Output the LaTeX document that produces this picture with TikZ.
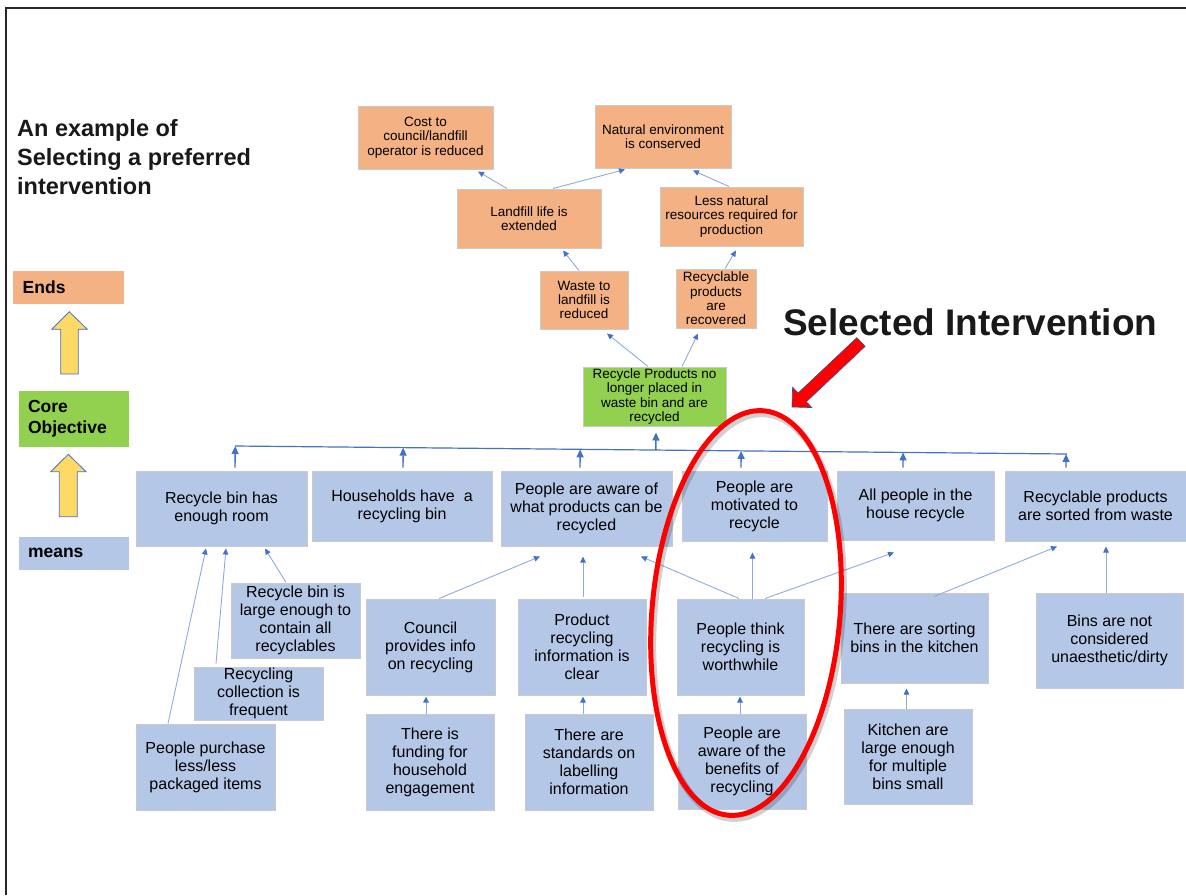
\documentclass[tikz,border=0pt]{standalone}
\usepackage{fontspec}
\setmainfont{Liberation Sans}
\usetikzlibrary{calc,arrows.meta}
\definecolor{meansblue}{HTML}{B4C7E7}
\definecolor{endsorange}{HTML}{F4B183}
\definecolor{coregreen}{HTML}{92D050}
\definecolor{linkblue}{HTML}{8FAADC}
\definecolor{tipblue}{HTML}{4472C4}
\definecolor{edgegrey}{HTML}{CACACA}
\definecolor{legendyellow}{HTML}{FFD966}
\definecolor{outlineblue}{HTML}{2F528F}

\begin{document}
\begin{tikzpicture}[x=1pt,y=-1pt,
    box/.style={draw=edgegrey,line width=1pt,inner sep=0pt,align=center,text=black},
    means/.style={box,fill=meansblue,font=\fontsize{16}{18}\selectfont},
    ends/.style={box,fill=endsorange,font=\fontsize{13.5}{14.3}\selectfont},
    core/.style={box,fill=coregreen,font=\fontsize{13.5}{14.3}\selectfont},
    link/.style={draw=linkblue,line width=0.9pt,-{Triangle[length=6pt,width=5.5pt,color=tipblue]}},
    busup/.style={draw=tipblue,line width=1.4pt,-{Triangle[length=8pt,width=7pt]}},
    legendbox/.style={inner xsep=9.5pt,inner ysep=0pt,align=left,anchor=west,font=\fontsize{17.5}{21}\selectfont\bfseries},
    legendarrow/.style={draw=tipblue,fill=legendyellow,line width=0.8pt,line join=miter}]
            \useasboundingbox (0,0) rectangle (1186,895);
            \draw[line width=2.5pt,black!85] (6,895) -- (6,8) -- (1186,8);
            \node[anchor=north west,inner sep=0pt,align=left,font=\fontsize{23.5}{29}\selectfont\bfseries,text=black!90] (title) at (17,119) {An example of\\Selecting a preferred\\intervention};
            \node[legendbox,fill=endsorange,text width=92,minimum height=33] (endslabel) at (13,287.5) {Ends};
            \node[legendbox,fill=coregreen,text width=91,minimum height=56] (corelabel) at (18.3,419) {Core\\Objective};
            \node[legendbox,fill=meansblue,text width=91,minimum height=33] (meanslabel) at (18.3,553) {means};
            \draw[legendarrow] (69.3,311.7) -- (87.3,329.3) -- (78.3,329.3) -- (78.3,374) -- (60.7,374) -- (60.7,329.3) -- (51.7,329.3) -- cycle;
            \draw[legendarrow] (68.3,454.3) -- (86,471.7) -- (77.3,471.7) -- (77.3,516.7) -- (59.3,516.7) -- (59.3,471.7) -- (50.7,471.7) -- cycle;
            \node[ends,minimum width=135,minimum height=63] (cost) at (425.5,137.5) {Cost to\\council/landfill\\operator is reduced};
            \node[ends,minimum width=136,minimum height=63] (natenv) at (663,136.5) {Natural environment\\is conserved};
            \node[ends,minimum width=144,minimum height=59] (landfill) at (529,218.5) {Landfill life is\\extended};
            \node[ends,minimum width=143,minimum height=59] (lessnat) at (731.5,216.5) {Less natural\\resources required for\\production};
            \node[ends,minimum width=88,minimum height=58] (waste) at (584,300) {Waste to\\landfill is\\reduced};
            \node[ends,minimum width=80,minimum height=59] (recov) at (716,298.5) {Recyclable\\products\\are\\recovered};
            \node[core,minimum width=143,minimum height=59] (core) at (654.5,396.5) {Recycle Products no\\longer placed in\\waste bin and are\\recycled};
            \node[means,minimum width=171,minimum height=75] (bin) at (221.5,508.5) {Recycle bin has\\enough room};
            \node[means,minimum width=180,minimum height=70] (hhbin) at (402,506) {Households have~~a\\recycling bin};
            \node[means,minimum width=171,minimum height=75] (aware) at (586.5,508.5) {People are aware of\\what products can be\\recycled};
            \node[means,minimum width=145,minimum height=70] (motiv) at (754.5,506) {People are\\motivated to\\recycle};
            \node[means,minimum width=157,minimum height=69] (allppl) at (915.5,505.5) {All people in the\\house recycle};
            \node[means,minimum width=181,minimum height=70] (sorted) at (1095.5,506) {Recyclable products\\are sorted from waste};
            \node[means,minimum width=129,minimum height=75] (large) at (295.5,620.5) {Recycle bin is\\large enough to\\contain all\\recyclables};
            \node[means,minimum width=129,minimum height=53] (collect) at (258.5,693.5) {Recycling\\collection is\\frequent};
            \node[means,minimum width=139,minimum height=86] (purchase) at (205.5,767) {People purchase\\less/less\\packaged items};
            \node[means,minimum width=129,minimum height=96] (council) at (430.5,647) {Council\\provides info\\on recycling};
            \node[means,minimum width=128,minimum height=96] (funding) at (430,762) {There is\\funding for\\household\\engagement};
            \node[means,minimum width=128,minimum height=96] (prodinfo) at (582,647) {Product\\recycling\\information is\\clear};
            \node[means,minimum width=128,minimum height=96] (standards) at (589,762) {There are\\standards on\\labelling\\information};
            \node[means,minimum width=127,minimum height=96] (worth) at (740.5,647) {People think\\recycling is\\worthwhile};
            \node[means,minimum width=128,minimum height=95] (benefits) at (742,761.5) {People are\\aware of the\\benefits of\\recycling};
            \node[means,minimum width=147,minimum height=90] (sortbins) at (914.5,638) {There are sorting\\bins in the kitchen};
            \node[means,minimum width=128,minimum height=95] (kitchen) at (908,756.5) {Kitchen are\\large enough\\for multiple\\bins small};
            \node[means,minimum width=147,minimum height=95] (notdirty) at (1109.5,640.5) {Bins are not\\considered\\unaesthetic/dirty};
            \draw[link] ($(landfill.north)+(-22,0)$) -- ($(cost.south)+(52.5,2)$);
            \draw[link] ($(landfill.north)+(24,0)$) -- ($(natenv.south)+(-38,1)$);
            \draw[link] ($(lessnat.north)+(-2.5,0)$) -- ($(natenv.south)+(30,2)$);
            \draw[link] ($(waste.north)+(-5,0)$) -- ($(landfill.south)+(34,2)$);
            \draw[link] ($(recov.north)+(9,0)$) -- ($(lessnat.south)+(4.5,4)$);
            \draw[link] ($(core.north)+(-6.5,0)$) -- ($(waste.south)+(23,4)$);
            \draw[link] ($(core.north)+(27.5,0)$) -- ($(recov.south)+(-18,5)$);
            \coordinate (busL) at (235,446);
            \coordinate (busR) at (1067,454);
            \draw[draw=tipblue,line width=1.2pt] (busL) -- (busR);
            \coordinate (coreup) at ($(core.south)+(1.5,6)$);
            \draw[busup] ($(busL)!(coreup)!(busR)$) -- (coreup);
            \coordinate (binup) at ($(bin.north)+(13.5,-3)$);
            \coordinate (hhbinup) at ($(hhbin.north)+(1,-3)$);
            \coordinate (awareup) at ($(aware.north)+(-6.5,-3)$);
            \coordinate (motivup) at ($(motiv.north)+(-13.5,-3)$);
            \coordinate (allpplup) at ($(allppl.north)+(-12.5,-3)$);
            \coordinate (sortedup) at ($(sorted.north)+(-29.5,-3)$);
            \draw[busup] (binup) -- ($(busL)!(binup)!(busR)$);
            \draw[busup] (hhbinup) -- ($(busL)!(hhbinup)!(busR)$);
            \draw[busup] (awareup) -- ($(busL)!(awareup)!(busR)$);
            \draw[busup] (motivup) -- ($(busL)!(motivup)!(busR)$);
            \draw[busup] (allpplup) -- ($(busL)!(allpplup)!(busR)$);
            \draw[busup] (sortedup) -- ($(busL)!(sortedup)!(busR)$);
            \draw[link] ($(purchase.north)+(-37.5,0)$) -- ($(bin.south)+(-15.5,2)$);
            \draw[link] ($(collect.north)+(-42.5,-3)$) -- ($(bin.south)+(4.5,2)$);
            \draw[link] ($(large.north)+(-9.5,0)$) -- ($(bin.south)+(43.5,2)$);
            \draw[link] ($(council.north)+(8.5,0)$) -- ($(aware.south)+(-46.5,10)$);
            \draw[link] ($(prodinfo.north)+(1,-2)$) -- ($(aware.south)+(-3.5,10)$);
            \draw[link] ($(worth.north)+(-1.5,0)$) -- ($(aware.south)+(54.5,10)$);
            \draw[link] ($(worth.north)+(12,0)$) -- ($(motiv.south)+(-2,11)$);
            \draw[link] ($(worth.north)+(24.5,0)$) -- ($(allppl.south)+(-21.5,12)$);
            \draw[link] ($(sortbins.north)+(19.5,4)$) -- ($(sorted.south)+(-38.5,5)$);
            \draw[link] ($(notdirty.north)+(-3.5,0)$) -- ($(sorted.south)+(10.5,5)$);
            \draw[link] ($(funding.north)+(-4,0)$) -- ($(council.south)+(-4.5,1)$);
            \draw[link] ($(standards.north)+(-6,0)$) -- ($(prodinfo.south)+(1,1)$);
            \draw[link] ($(benefits.north)+(-2,0)$) -- ($(worth.south)+(-0.5,1)$);
            \draw[link] ($(kitchen.north)+(-1.5,0)$) -- ($(sortbins.south)+(-8,5)$);
            \draw[black,opacity=0.18,line width=7pt,rotate around={-5:(748,616)}] (748,616) ellipse [x radius=94,y radius=203];
            \draw[red,line width=5pt,rotate around={-5:(746,613)}] (746,613) ellipse [x radius=94,y radius=203];
            \node[anchor=base west,inner sep=0pt,font=\fontsize{37}{40}\selectfont\bfseries,text=black!90] (selected) at (783,335) {Selected Intervention};
            \coordinate (redtip) at (792,407);
            \coordinate (redtail) at (861,342);
            \draw[fill=red,draw=outlineblue,line width=0.6pt,line join=miter] (redtip) -- ($(redtip)!14pt!(redtail)!14pt!90:(redtail)$) -- ($(redtip)!14pt!(redtail)!6pt!90:(redtail)$) -- ($(redtail)!6pt!-90:(redtip)$) -- ($(redtail)!6pt!90:(redtip)$) -- ($(redtip)!14pt!(redtail)!6pt!-90:(redtail)$) -- ($(redtip)!14pt!(redtail)!14pt!-90:(redtail)$) -- cycle;
        \end{tikzpicture}
\end{document}
